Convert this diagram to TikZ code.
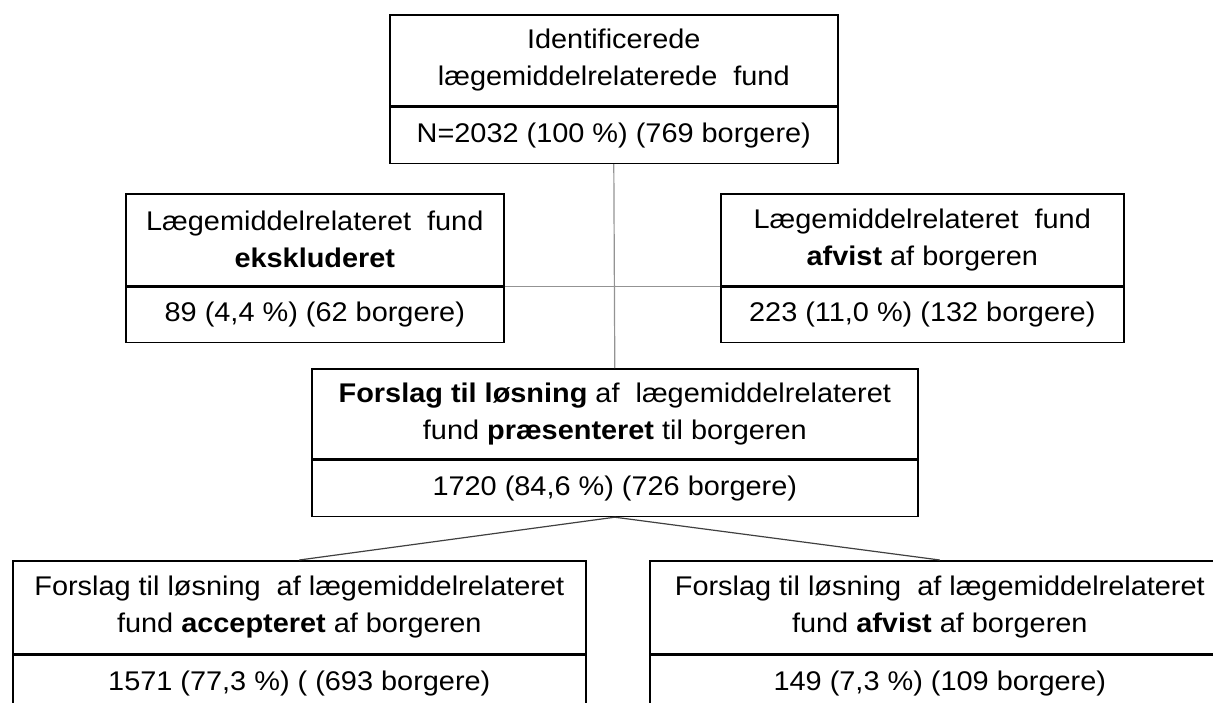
\documentclass[tikz,border=0pt]{standalone}
\usepackage{fontspec}
\setmainfont{Liberation Sans}[FakeStretch=1.07]
\usetikzlibrary{positioning}
\tikzset{
  boks/.style={draw, line width=1.6pt, align=center, inner sep=0pt, anchor=north west,
    font=\fontsize{27}{37}\selectfont},
  tal/.style={draw, line width=1.6pt, align=center, inner sep=0pt, anchor=north,
    minimum height=56pt, font=\fontsize{27}{37}\selectfont},
  link/.style={draw=gray!85, line width=1.2pt},
}
\begin{document}
\begin{tikzpicture}[x=1pt, y=-1pt]
    \useasboundingbox (0,0) rectangle (1213,702);
    \clip (0,0) rectangle (1213,702);
    % top
    \node[boks, minimum width=448pt, minimum height=91pt] (top) at (389,14)
        {Identificerede\\lægemiddelrelaterede~ fund};
    \node[tal, minimum width=448pt] (topn) at (top.south) {N=2032 (100 \%) (769 borgere)};
    % side boxes
    \node[boks, minimum width=378pt, minimum height=92pt] (eks) at (125,193)
        {Lægemiddelrelateret~ fund\\\textbf{ekskluderet}};
    \node[tal, minimum width=378pt, minimum height=55pt] (eksn) at (eks.south) {89 (4,4 \%) (62 borgere)};
    \node[boks, minimum width=403pt, minimum height=92pt] (afv) at (720,193)
        {Lægemiddelrelateret~ fund\\\textbf{afvist} af borgeren};
    \node[tal, minimum width=403pt, minimum height=55pt] (afvn) at (afv.south) {223 (11,0 \%) (132 borgere)};
    % middle
    \node[boks, minimum width=606pt, minimum height=90pt] (mid) at (311,368)
        {\textbf{Forslag til løsning} af~ lægemiddelrelateret\\fund \textbf{præsenteret} til borgeren};
    \node[tal, minimum width=606pt] (midn) at (mid.south) {1720 (84,6 \%) (726 borgere)};
    % bottom
    \node[boks, minimum width=573pt, minimum height=93pt] (acc) at (12,560)
        {Forslag til løsning~ af lægemiddelrelateret\\fund \textbf{accepteret} af borgeren};
    \node[tal, minimum width=573pt] (accn) at (acc.south) {1571 (77,3 \%) ( (693 borgere)};
    \node[boks, minimum width=580pt, minimum height=93pt] (afs) at (649,560)
        {Forslag til løsning~ af lægemiddelrelateret\\fund \textbf{afvist} af borgeren};
    \node[tal, minimum width=580pt] (afsn) at (afs.south) {149 (7,3 \%) (109 borgere)};

    \draw[link] (topn.south) -- (mid.north);
    \draw[link] (eksn.north east) -- (afvn.north west);
    \draw[link, draw=black!75] (midn.south) -- (acc.north);
    \draw[link, draw=black!75] (midn.south) -- (afs.north);
\end{tikzpicture}
\end{document}
